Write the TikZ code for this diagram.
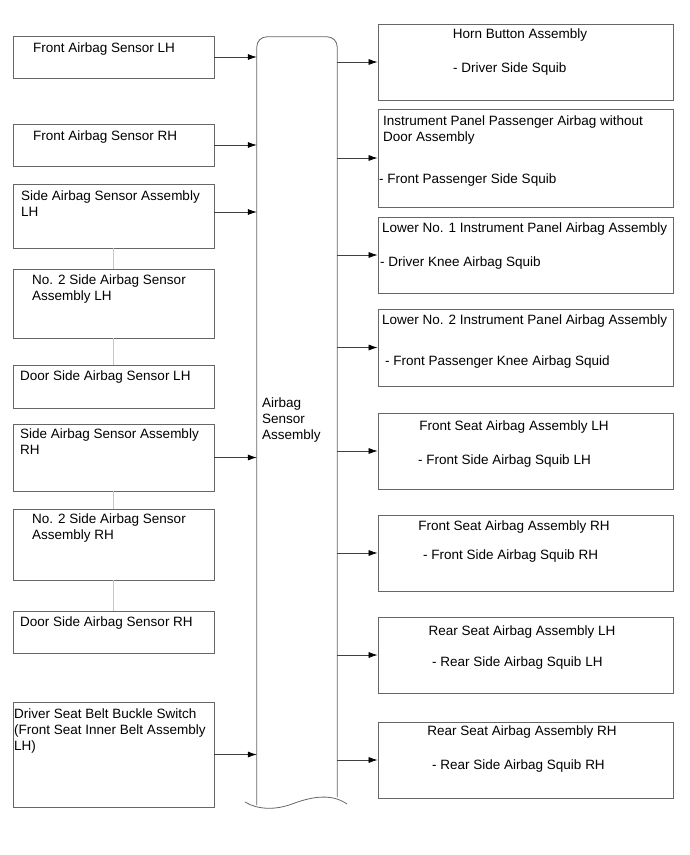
\documentclass[tikz,border=0pt]{standalone}
\usepackage{fontspec}
\setmainfont{Liberation Sans}
\usetikzlibrary{arrows.meta,fit}
\begin{document}
\begin{tikzpicture}[x=1pt,y=-1pt,
  box/.style={draw=black!60, line width=0.8pt, inner sep=0pt},
  hidden/.style={inner sep=0pt},
  txt/.style={inner sep=0pt, font=\fontsize{13.5}{16}\selectfont, align=left, anchor=base west},
  ctxt/.style={inner sep=0pt, font=\fontsize{13.5}{16}\selectfont, anchor=base},
  arr/.style={-{Latex[length=9pt,width=6pt,fill=black,color=black]}, draw=black!75, line width=0.7pt},
  link/.style={draw=black!22, line width=1.6pt},
  outline/.style={draw=black!60, line width=0.8pt}]
\useasboundingbox (0,0) rectangle (690,855);

% left boxes
\node[box, fit={(13,36) (214,78)}] (L1) {};
\node[box, fit={(13,124) (214,166)}] (L2) {};
\node[box, fit={(13,184) (214,248)}] (L3) {};
\node[box, fit={(13,269) (214,338)}] (L4) {};
\node[box, fit={(13,365) (214,408)}] (L5) {};
\node[box, fit={(13,424) (214,491)}] (L6) {};
\node[box, fit={(13,509) (214,580)}] (L7) {};
\node[box, fit={(13,611) (214,653)}] (L8) {};
\node[box, fit={(13,702) (214,807)}] (L9) {};

% vertical links
\draw[link] (L3.south) -- (L4.north);
\draw[link] (L4.south) -- (L5.north);
\draw[link] (L6.south) -- (L7.north);
\draw[link] (L7.south) -- (L8.north);

% (multi-line nodes: base anchor is on the last line)
\node[txt] (tL1) at (33,52) {Front Airbag Sensor LH};
\node[txt] (tL2) at (33,140) {Front Airbag Sensor RH};
\node[txt] (tL3) at (21,216) {Side Airbag Sensor Assembly\\LH};
\node[txt] (tL4) at (32,300) {No. 2 Side Airbag Sensor\\Assembly LH};
\node[txt] (tL5) at (20,380) {Door Side Airbag Sensor LH};
\node[txt] (tL6) at (20,454) {Side Airbag Sensor Assembly\\RH};
\node[txt] (tL7) at (32,539) {No. 2 Side Airbag Sensor\\Assembly RH};
\node[txt] (tL8) at (20,626) {Door Side Airbag Sensor RH};
\node[txt] (tL9) at (14,750) {Driver Seat Belt Buckle Switch\\(Front Seat Inner Belt Assembly\\LH)};

% central box
\node[hidden, fit={(257,37) (337,805)}] (C) {};
\draw[outline, rounded corners=10pt] (C.south west) -- (C.north west) -- (C.north east) -- (C.east |- 0,797);
\draw[outline] (245,802) .. controls (258,810) and (276,810) .. (292,804)
  .. controls (308,798) and (330,792) .. (347,804);
\node[txt] (tC) at (262,439) {Airbag\\Sensor\\Assembly};

% right boxes
\node[box, fit={(378,24) (673,100)}] (R1) {};
\node[box, fit={(378,109) (673,207)}] (R2) {};
\node[box, fit={(378,217) (673,293)}] (R3) {};
\node[box, fit={(378,309) (673,386)}] (R4) {};
\node[box, fit={(378,413) (673,489)}] (R5) {};
\node[box, fit={(378,515) (673,591)}] (R6) {};
\node[box, fit={(378,617) (673,693)}] (R7) {};
\node[box, fit={(378,722) (673,798)}] (R8) {};

\node[ctxt] (tR1) at (520,38) {Horn Button Assembly};
\node[txt] (sR1) at (453,72) {- Driver Side Squib};
\node[txt] (tR2) at (383,141) {Instrument Panel Passenger Airbag without\\Door Assembly};
\node[txt] (sR2) at (379,183) {- Front Passenger Side Squib};
\node[txt] (tR3) at (382,232) {Lower No. 1 Instrument Panel Airbag Assembly};
\node[txt] (sR3) at (380,266) {- Driver Knee Airbag Squib};
\node[txt] (tR4) at (382,324) {Lower No. 2 Instrument Panel Airbag Assembly};
\node[txt] (sR4) at (385,365) {- Front Passenger Knee Airbag Squid};
\node[ctxt] (tR5) at (514,430) {Front Seat Airbag Assembly LH};
\node[txt] (sR5) at (418,464) {- Front Side Airbag Squib LH};
\node[ctxt] (tR6) at (514,530) {Front Seat Airbag Assembly RH};
\node[txt] (sR6) at (423,559) {- Front Side Airbag Squib RH};
\node[ctxt] (tR7) at (522,635) {Rear Seat Airbag Assembly LH};
\node[txt] (sR7) at (432,666) {- Rear Side Airbag Squib LH};
\node[ctxt] (tR8) at (522,735) {Rear Seat Airbag Assembly RH};
\node[txt] (sR8) at (432,769) {- Rear Side Airbag Squib RH};

% arrows into the sensor assembly
\foreach \n in {L1,L2,L6,L9}
  \draw[arr] (\n.east) -- (\n.east -| C.west);
\draw[arr] ([yshift=4pt]L3.east) -- ([yshift=4pt]L3.east -| C.west);
% arrows out of the sensor assembly
\foreach \n in {R1,R2,R3,R4,R5,R6,R7,R8}
  \draw[arr] (\n.west -| C.east) -- (\n.west);
\end{tikzpicture}
\end{document}
